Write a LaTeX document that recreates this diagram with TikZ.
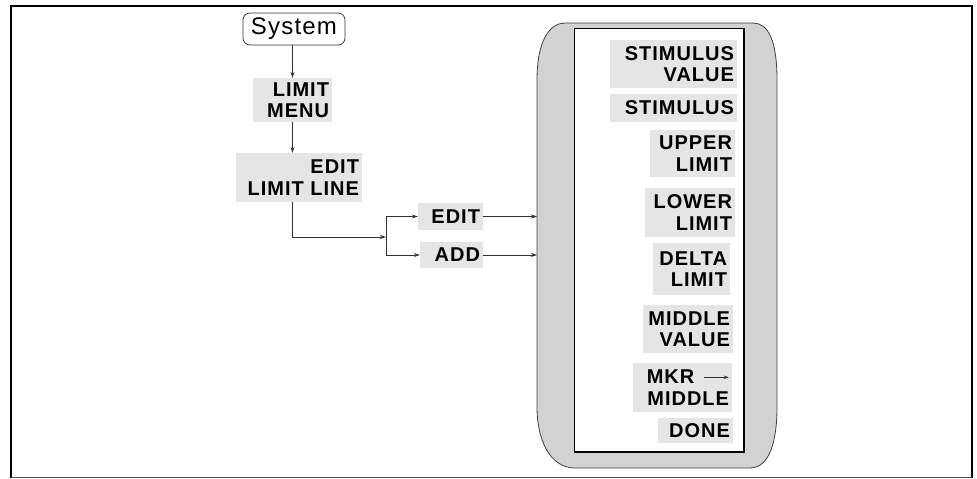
\documentclass[tikz,border=0pt]{standalone}
\usepackage{fontspec}
\setmainfont{Liberation Sans}
\newfontfamily\lblfont{Liberation Sans}[LetterSpace=5]
\usetikzlibrary{arrows.meta,calc}
\tikzset{
  softkey/.style={fill=gray!20, inner xsep=3pt, inner ysep=0pt, align=right,
    font=\lblfont\bfseries\fontsize{20}{21.5}\selectfont},
  sysbox/.style={draw=gray!40!black, line width=0.7pt, rounded corners=7pt, fill=white,
    inner sep=0pt, font=\lblfont\fontsize{24}{26}\selectfont},
  conn/.style={draw=gray!40!black, line width=0.8pt, -{Stealth[length=6pt,width=4pt]}},
  plain/.style={draw=gray!40!black, line width=0.8pt}
}
\begin{document}
\begin{tikzpicture}[x=1pt,y=-1pt]
\useasboundingbox (0,0) rectangle (977,479);
% frame
\draw[line width=2.2pt] (10,6) -- (973,6);
\draw[line width=2pt] (11,6) -- (11,478);
\draw[line width=2.5pt] (972,6) -- (972,478);
\draw[line width=1pt, gray!60!black] (11,477) -- (972,477);
% panel
\draw[fill=gray!35, draw=gray!50!black, line width=0.8pt]
  (537,80) .. controls (537,40) and (550,23) .. (565,23) -- (753,23)
  .. controls (768,23) and (777,40) .. (777,80) -- (777,407)
  .. controls (777,440) and (770,468) .. (750,468) -- (575,468)
  .. controls (550,468) and (537,440) .. (537,407) -- cycle;
\coordinate (pl) at (537,240);
\draw[fill=white, draw=black, line width=0.8pt] (574,28) rectangle (744,452);
\draw[line width=1.3pt] (744,28) -- (744,452) -- (574,452);
% panel keys
\node[softkey, text width=121pt, minimum height=48pt] (k1) at (673.5,64) {STIMULUS\\VALUE};
\node[softkey, text width=121pt, minimum height=28pt] (k2) at (673.5,108) {STIMULUS};
\node[softkey, text width=79pt, minimum height=47pt] (k3) at (692.5,153.5) {UPPER\\LIMIT};
\node[softkey, text width=84pt, minimum height=49pt] (k4) at (690,212.5) {LOWER\\LIMIT};
\node[softkey, text width=71pt, minimum height=52pt] (k5) at (691.5,269) {DELTA\\LIMIT};
\node[softkey, text width=84pt, minimum height=48pt] (k6) at (688,329) {MIDDLE\\VALUE};
\node[softkey, text width=93pt, minimum height=49pt] (k7) at (682.5,387.5)
  {MKR\hspace{9pt}\tikz[baseline=-0.6ex]\draw[draw=gray!40!black, line width=0.7pt, -{Stealth[length=5pt,width=3.5pt]}] (0pt,0pt) -- (25pt,0pt);\\MIDDLE};
\node[softkey, text width=69pt, minimum height=25pt] (k8) at (695.5,430.5) {DONE};
% left chain
\node[sysbox, minimum width=102pt, minimum height=32pt] (sys) at (294,29) {System};
\node[softkey, text width=73pt, minimum height=44pt] (lm) at (292.5,100) {LIMIT\\MENU};
\node[softkey, text width=120pt, minimum height=49pt] (ell) at (299,177.5) {EDIT\\LIMIT LINE};
\node[softkey, text width=59pt, minimum height=27pt] (edit) at (450.5,216.5) {EDIT};
\node[softkey, text width=57pt, minimum height=26pt] (add) at (451.5,255) {ADD};
\coordinate (j) at (386,237);
\coordinate (lb) at (292,202);
\draw[conn] (lm.north |- sys.south) -- (lm.north);
\draw[conn] (lm.south) -- (lm.south |- ell.north);
\draw[conn] (lb) |- (j);
\draw[plain] (edit.west -| j) -- (add.west -| j);
\draw[conn] (edit.west -| j) -- (edit.west);
\draw[conn] (add.west -| j) -- (add.west);
\draw[conn] (edit.east) -- (edit.east -| pl);
\draw[conn] (add.east) -- (add.east -| pl);
\end{tikzpicture}
\end{document}
